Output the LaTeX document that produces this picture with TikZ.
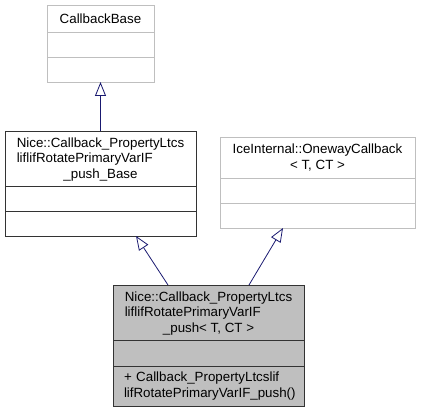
\documentclass[tikz,border=0pt]{standalone}
\usepackage{fontspec}
\setmainfont{Liberation Sans}
\usetikzlibrary{positioning,calc,arrows.meta}
\definecolor{edgeblue}{HTML}{191970}
\definecolor{boxgray}{HTML}{BFBFBF}

\begin{document}
\begin{tikzpicture}[x=1pt,y=-1pt,
    font=\fontsize{13.33}{15.5}\selectfont,
    cls/.style={draw=black!80,line width=0.9pt,inner sep=0pt,outer sep=0pt,align=center},
    ext/.style={cls,draw=boxgray},
    cur/.style={cls,fill=boxgray},
    inherit/.style={draw=edgeblue,line width=0.8pt,-{Triangle[open,length=14pt,width=11pt]}}]
    \useasboundingbox (0,0) rectangle (421,412);

    % CallbackBase
    \node[ext,minimum width=107,minimum height=27] (cbt) at (100.5,18.5) {CallbackBase};
    \node[ext,minimum width=107,minimum height=25,below=0pt of cbt] (cba) {};
    \node[ext,minimum width=107,minimum height=25,below=0pt of cba] (cbm) {};

    % _push_Base
    \node[cls,minimum width=191,minimum height=55] (bt) at (100.5,158.5)
        {\begin{tabular}[b]{@{}l@{}}Nice::Callback\_PropertyLtcs\\liflifRotatePrimaryVarIF\end{tabular}\\\_push\_Base};
    \node[cls,minimum width=191,minimum height=25,below=0pt of bt] (ba) {};
    \node[cls,minimum width=191,minimum height=25,below=0pt of ba] (bm) {};

    % OnewayCallback
    \node[ext,minimum width=195,minimum height=41] (ot) at (317.5,157.5)
        {IceInternal::OnewayCallback\\< T, CT >};
    \node[ext,minimum width=195,minimum height=25,below=0pt of ot] (oa) {};
    \node[ext,minimum width=195,minimum height=25,below=0pt of oa] (om) {};

    % _push< T, CT >
    \node[cur,minimum width=191,minimum height=55] (pt) at (208.5,312.5)
        {\begin{tabular}[b]{@{}l@{}}Nice::Callback\_PropertyLtcs\\liflifRotatePrimaryVarIF\end{tabular}\\\_push< T, CT >};
    \node[cur,minimum width=191,minimum height=26,below=0pt of pt] (pa) {};
    \node[cur,minimum width=191,minimum height=40,below=0pt of pa,align=left,
          inner xsep=11pt,text width=169pt] (pm)
        {+ Callback\_PropertyLtcslif\\lifRotatePrimaryVarIF\_push()};

    \draw[inherit] (bt.north) -- (cbm.south);
    \draw[inherit] ($(pt.north west)+(55,0)$) -- ($(bm.south west)+(131,0)$);
    \draw[inherit] ($(pt.north west)+(136,0)$) -- ($(om.south west)+(63,0)$);
\end{tikzpicture}
\end{document}
